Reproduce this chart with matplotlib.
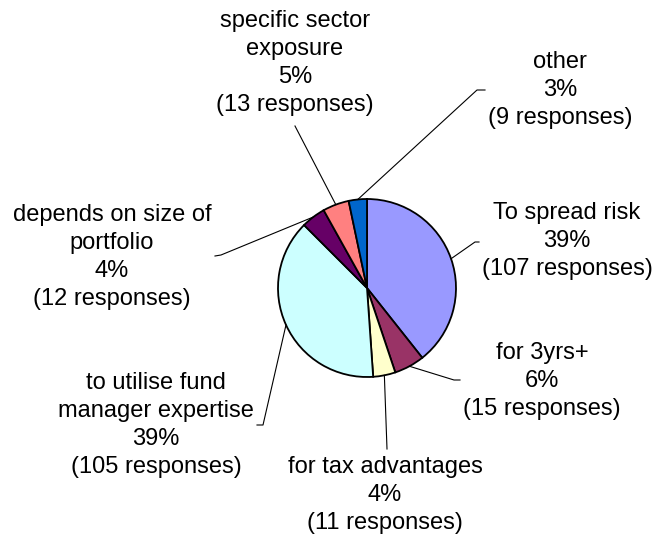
import numpy as np
import matplotlib
matplotlib.use("Agg")
import matplotlib.pyplot as plt

plt.rcParams['font.family'] = ['Liberation Sans', 'DejaVu Sans']

# data (clockwise from 12 o'clock)
reasons = ["To spread risk", "for 3yrs+", "for tax advantages",
           "to utilise fund\nmanager expertise", "depends on size of\nportfolio",
           "specific sector\nexposure", "other"]
responses = [107, 15, 11, 105, 12, 13, 9]
colors = ["#9999FF", "#993366", "#FFFFCC", "#CCFFFF", "#660066", "#FF8080", "#0066CC"]

W, H = 653, 537
fig = plt.figure(figsize=(W / 100, H / 100), dpi=100)
ax = fig.add_axes([0, 0, 1, 1])

cx, cy, r = 367, H - 288, 89
ax.pie(responses, colors=colors, startangle=90, counterclock=False,
       center=(cx, cy), radius=r, frame=True,
       wedgeprops=dict(edgecolor="black", linewidth=1.3))
ax.set_xlim(0, W)
ax.set_ylim(0, H)
ax.set_aspect("equal")
ax.axis("off")

# label centre (x, y of middle of block, in image pixels) and leader path
label_pos = [(567, 241), (542, 381), (385, 495), (156, 425), (112, 257), (295, 63), (560, 90)]
leader_end = [[(475, 242), (479, 242)],
              [(454, 380), (460, 380)],
              [(387, 449)],
              [(263, 425), (257, 425)],
              [(221, 255), (215, 256)],
              [(295, 126)],
              [(477, 90), (485, 90)]]

total = sum(responses)
cum = np.cumsum([0] + responses)
for i, (name, n) in enumerate(zip(reasons, responses)):
    pct = int(round(100 * n / total))
    txt = f"{name}\n{pct}%\n({n} responses)"
    lx, ly = label_pos[i]
    ax.text(lx, H - ly, txt, ha="center", va="center", fontsize=17,
            linespacing=1.34, color="black")
    mid = 2 * np.pi * (cum[i] + n / 2) / total
    px, py = cx + r * np.sin(mid), cy + r * np.cos(mid)
    xs = [px] + [p[0] for p in leader_end[i]]
    ys = [py] + [H - p[1] for p in leader_end[i]]
    ax.plot(xs, ys, color="black", linewidth=0.8)

fig.savefig("out.png", dpi=100, facecolor="white")
